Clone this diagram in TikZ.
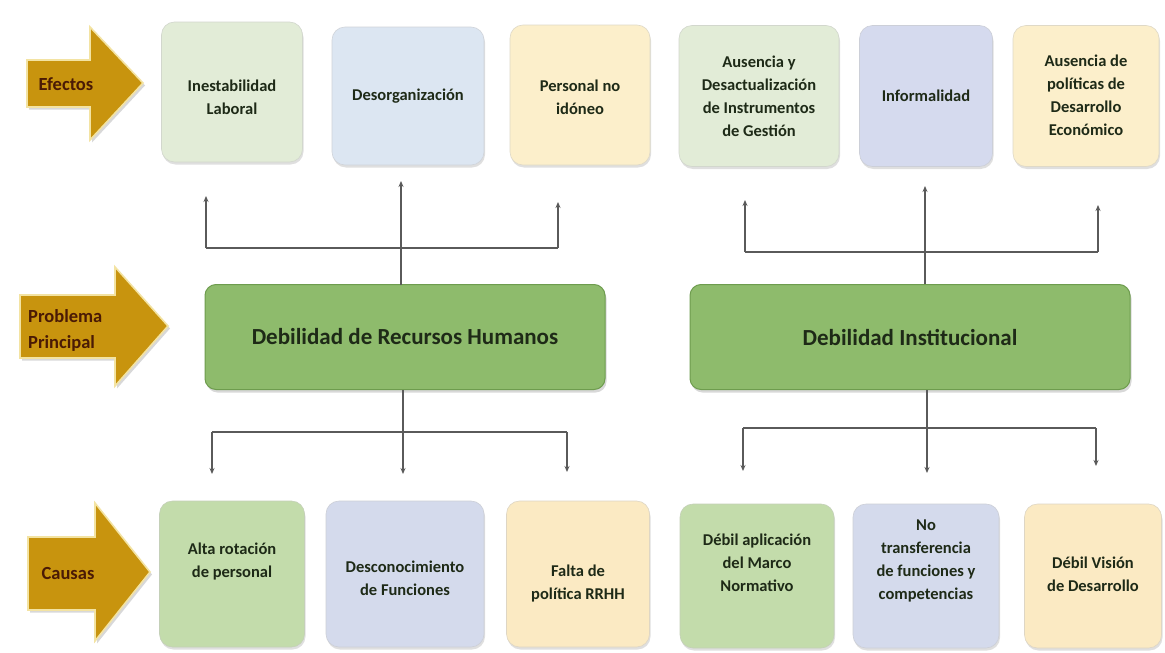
\documentclass[tikz,border=0pt]{standalone}
\usepackage{fontspec}
\setmainfont{Carlito}
\usetikzlibrary{shadows,arrows.meta}
\definecolor{gold}{HTML}{C8940E}
\definecolor{goldedge}{HTML}{F3E3A2}
\definecolor{arrtxt}{HTML}{4A1A05}
\definecolor{boxtxt}{HTML}{1E2A17}
\definecolor{gA}{HTML}{E2ECD7}
\definecolor{bA}{HTML}{DCE6F2}
\definecolor{yA}{HTML}{FCEFCB}
\definecolor{lA}{HTML}{D5DAEE}
\definecolor{gB}{HTML}{C3DCAB}
\definecolor{lB}{HTML}{D4DAEC}
\definecolor{yB}{HTML}{FBEAC3}
\definecolor{mainG}{HTML}{8EBB6C}
\definecolor{mainE}{HTML}{6E9C4E}
\definecolor{conn}{HTML}{5A5A5A}
\tikzset{
  effbox/.style={rounded corners=13pt, draw=#1!80!black!60, line width=0.6pt, fill=#1,
    drop shadow={opacity=0.25, shadow xshift=1pt, shadow yshift=-2.5pt},
    text=boxtxt, font=\bfseries\fontsize{16.5}{23}\selectfont, align=center, inner sep=2pt},
  boxlab/.style={text=boxtxt, font=\bfseries\fontsize{16.5}{23}\selectfont, align=center, inner sep=0pt},
  mainbox/.style={rounded corners=11pt, draw=mainE, line width=1pt, fill=mainG,
    drop shadow={opacity=0.3, shadow xshift=1.5pt, shadow yshift=-3pt},
    text=boxtxt, font=\bfseries\fontsize{23}{27}\selectfont, align=center},
  goldarrow/.style={fill=gold, draw=goldedge, line width=1.6pt, line join=miter,
    drop shadow={opacity=0.3, shadow xshift=2pt, shadow yshift=-2.5pt}},
  arrlabel/.style={text=arrtxt, font=\bfseries\fontsize{18.5}{26}\selectfont, align=left, inner sep=0pt},
  connector/.style={draw=conn, line width=1.1pt, -{Stealth[length=6pt,width=5pt]}},
  connline/.style={draw=conn, line width=1.1pt}
}
\begin{document}
\begin{tikzpicture}[x=1pt,y=-1pt]
\useasboundingbox (0,0) rectangle (1165,653);
\fill[white] (0,0) rectangle (1165,653);

% gold arrows
\draw[goldarrow] (27,60) -- (90,60) -- (90,27) -- (143,83) -- (90,140) -- (90,107) -- (27,107) -- cycle;
\node[arrlabel] (lefe) at (66,84) {Efectos};
\draw[goldarrow] (20,295) -- (115,295) -- (115,267) -- (168,326) -- (115,386) -- (115,358) -- (20,358) -- cycle;
\node[arrlabel, anchor=west] (lpro) at (28,330) {Problema\\Principal};
\draw[goldarrow] (28,537) -- (95,537) -- (95,503) -- (150,572) -- (95,641) -- (95,610) -- (28,610) -- cycle;
\node[arrlabel] (lcau) at (68,573) {Causas};

% effects
\node[effbox=gA, minimum width=141pt, minimum height=140pt] (t1) at (232,92) {};
\node[boxlab] (t1t) at (232,97) {Inestabilidad\\Laboral};
\node[effbox=bA, minimum width=152pt, minimum height=138pt] (t2) at (408,96) {Desorganización};
\node[effbox=yA, minimum width=140pt, minimum height=140pt] (t3) at (580,95) {};
\node[boxlab] (t3t) at (580,97) {Personal no\\idóneo};
\node[effbox=gA, minimum width=160pt, minimum height=141pt] (t4) at (759,96) {Ausencia y\\Desactualización\\de Instrumentos\\de Gestión};
\node[effbox=lA, minimum width=133pt, minimum height=141pt] (t5) at (926,96) {Informalidad};
\node[effbox=yA, minimum width=146pt, minimum height=141pt] (t6) at (1086,96) {};
\node[boxlab] (t6t) at (1086,95) {Ausencia de\\políticas de\\Desarrollo\\Económico};

% main problems
\node[mainbox, minimum width=400pt, minimum height=105pt] (m1) at (405,337) {Debilidad de Recursos Humanos};
\node[mainbox, minimum width=440pt, minimum height=105pt] (m2) at (910,337) {Debilidad Institucional};

% causes
\node[effbox=gB, minimum width=145pt, minimum height=146pt] (b1) at (232,574) {};
\node[boxlab] (b1t) at (232,562) {Alta rotación\\de personal};
\node[effbox=lB, minimum width=158pt, minimum height=146pt] (b2) at (405,574) {};
\node[boxlab] (b2t) at (405,578) {Desconocimiento\\de Funciones};
\node[effbox=yB, minimum width=143pt, minimum height=146pt] (b3) at (578,574) {};
\node[boxlab] (b3t) at (578,584) {Falta de\\política RRHH};
\node[effbox=gB, minimum width=154pt, minimum height=144pt] (b4) at (757,576) {};
\node[boxlab] (b4t) at (757,563) {Débil aplicación\\del Marco\\Normativo};
\node[effbox=lB, minimum width=146pt, minimum height=144pt] (b5) at (926,576) {};
\node[boxlab] (b5t) at (926,561) {No\\transferencia\\de funciones y\\competencias};
\node[effbox=yB, minimum width=137pt, minimum height=144pt] (b6) at (1093,576) {};
\node[boxlab] (b6t) at (1093,574) {Débil Visión\\de Desarrollo};

% connector coordinates
\coordinate (u1l) at (206,248); \coordinate (u1r) at (558,248);
\coordinate (u1lt) at (206,196); \coordinate (u1rt) at (558,202);
\coordinate (u1c) at (401,285); \coordinate (u1ct) at (401,181);
\coordinate (u2l) at (745,252); \coordinate (u2r) at (1098,252);
\coordinate (u2lt) at (745,200); \coordinate (u2rt) at (1098,205);
\coordinate (u2c) at (925,284); \coordinate (u2ct) at (925,186);

\coordinate (d1c) at (403,390); \coordinate (d1ct) at (403,474);
\coordinate (d1l) at (212,432); \coordinate (d1r) at (567,432);
\coordinate (d1lt) at (212,474); \coordinate (d1rt) at (567,472);
\coordinate (d2c) at (927,390); \coordinate (d2ct) at (927,473);
\coordinate (d2l) at (743,428); \coordinate (d2r) at (1096,428);
\coordinate (d2lt) at (743,471); \coordinate (d2rt) at (1096,466);

% top connectors
\draw[connector] (u1c) -- (u1ct);
\draw[connline] (u1l) -- (u1r);
\draw[connector] (u1l) -- (u1lt);
\draw[connector] (u1r) -- (u1rt);
\draw[connector] (u2c) -- (u2ct);
\draw[connline] (u2l) -- (u2r);
\draw[connector] (u2l) -- (u2lt);
\draw[connector] (u2r) -- (u2rt);

% bottom connectors
\draw[connector] (d1c) -- (d1ct);
\draw[connline] (d1l) -- (d1r);
\draw[connector] (d1l) -- (d1lt);
\draw[connector] (d1r) -- (d1rt);
\draw[connector] (d2c) -- (d2ct);
\draw[connline] (d2l) -- (d2r);
\draw[connector] (d2l) -- (d2lt);
\draw[connector] (d2r) -- (d2rt);
\end{tikzpicture}
\end{document}
